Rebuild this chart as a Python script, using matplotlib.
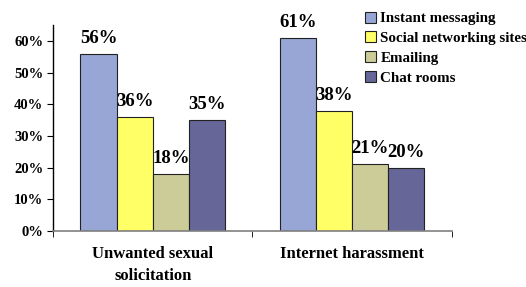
import numpy as np
from matplotlib import pyplot as plt
from matplotlib.patches import Patch

categories = ["Unwanted sexual\nsolicitation", "Internet harassment"]
series = ["Instant messaging", "Social networking sites", "Emailing", "Chat rooms"]
values = {
    "Instant messaging": [56, 61],
    "Social networking sites": [36, 38],
    "Emailing": [18, 21],
    "Chat rooms": [35, 20],
}
colors = ["#97A6D4", "#FFFF66", "#CCCC99", "#666699"]

plt.rcParams['font.family'] = ['Liberation Serif', 'DejaVu Serif']
plt.rcParams['font.weight'] = 'bold'

fig = plt.figure(figsize=(5.26, 2.87), dpi=100)
ax = fig.add_axes([0.1008, 0.195, 0.7582, 0.718])

x = np.arange(len(categories))
width = 0.18125
offsets = (np.arange(len(series)) - 1.5) * width
for i, s in enumerate(series):
    bars = ax.bar(x + offsets[i], values[s], width, color=colors[i],
                  edgecolor="#222222", linewidth=0.8, label=s)
    for b, v in zip(bars, values[s]):
        ax.text(b.get_x() + b.get_width() / 2, v + 2.2, f"{v}%",
                ha='center', va='bottom', fontsize=13.5, fontweight='bold')

ax.set_xlim(-0.5, 1.5)
ax.set_ylim(0, 65)
ax.set_yticks(range(0, 61, 10))
ax.set_yticklabels([f"{t}%" for t in range(0, 61, 10)], fontsize=10.5, fontweight='bold')
ax.set_xticks(x)
ax.set_xticklabels(categories, fontsize=12, fontweight='bold', linespacing=1.45)
ax.tick_params(axis='x', length=0, pad=11)
ax.set_xticks([-0.5, 0.5, 1.5], minor=True)
ax.tick_params(axis='x', which='minor', length=4, color='black')
ax.tick_params(axis='y', length=4, direction='out', pad=3)

for side in ['top', 'right']:
    ax.spines[side].set_visible(False)
ax.spines['bottom'].set_color('#808080')
ax.spines['bottom'].set_linewidth(1.2)
ax.spines['left'].set_linewidth(1.0)

handles = [Patch(facecolor=c, edgecolor='#222222', linewidth=0.8) for c in colors]
fig.legend(handles, series, loc='upper left', bbox_to_anchor=(0.682, 0.98),
           frameon=False, fontsize=10.8, handlelength=0.75, handleheight=0.75,
           handletextpad=0.3, labelspacing=0.4, borderaxespad=0)

fig.savefig("out.png", dpi=100)
